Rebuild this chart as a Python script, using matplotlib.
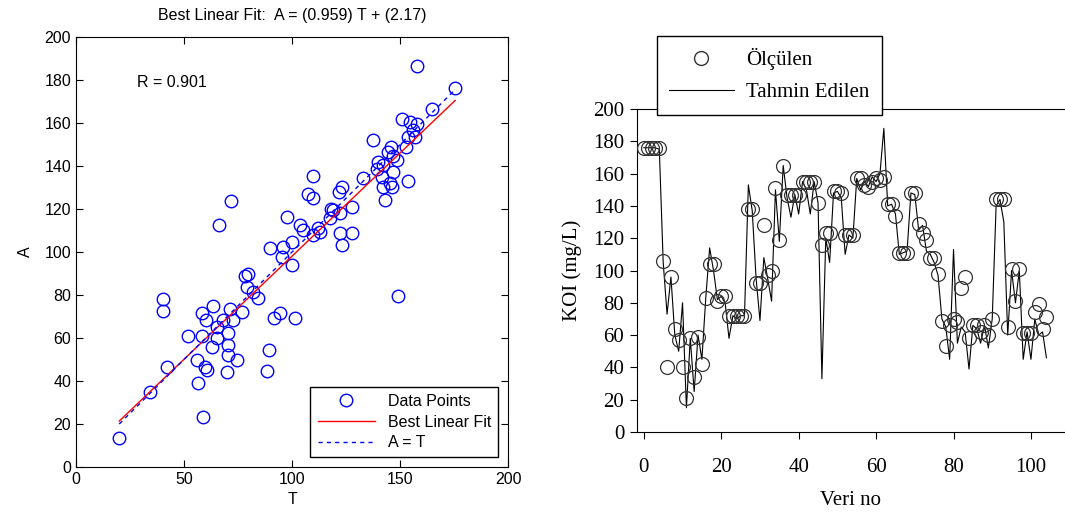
import matplotlib
matplotlib.use("Agg")
import matplotlib.pyplot as plt
import numpy as np
from matplotlib.lines import Line2D

# ---- Left panel data: targets T vs outputs A ----
T_vals = [157.7, 175.5, 165.0, 150.8, 154.6, 157.7, 156.0, 153.8, 157.0, 153.0,
          137.4, 146.0, 144.6, 146.9, 148.5, 140.0, 142.3, 139.2, 141.5, 146.6,
          133.0, 153.5, 145.4, 146.2, 142.3, 143.0, 109.6, 107.5, 109.6, 123.0,
          121.9, 127.6, 71.8, 97.5, 119.0, 122.0, 117.6, 66.4, 103.7, 105.2,
          109.9, 122.2, 127.6, 123.0, 89.8, 96.0, 99.9, 95.2, 99.9, 79.8,
          79.0, 82.1, 84.4, 149.2, 40.1, 40.1, 58.2, 63.6, 71.3, 76.7,
          68.2, 72.8, 60.2, 94.4, 91.7, 101.4, 65.1, 70.5, 52.0, 58.2,
          65.1, 70.5, 62.8, 70.5, 74.4, 89.5, 88.3, 55.9, 59.7, 60.5,
          69.8, 42.0, 56.6, 34.3, 58.6, 20.0, 78.0, 112.0, 118.0, 113.0]
A_vals = [186.5, 176.4, 166.5, 161.9, 160.6, 159.4, 156.7, 153.3, 153.6, 149.0,
          152.0, 149.0, 146.6, 144.7, 142.8, 142.0, 140.5, 138.5, 135.0, 137.0,
          134.3, 133.2, 132.0, 130.4, 130.4, 124.2, 135.5, 127.0, 125.0, 130.4,
          128.0, 121.0, 123.9, 116.4, 119.5, 118.0, 115.7, 112.6, 112.6, 110.2,
          107.9, 108.7, 108.7, 103.3, 101.7, 102.5, 104.8, 97.8, 94.0, 90.0,
          83.9, 81.5, 78.5, 79.5, 78.0, 72.7, 71.5, 74.9, 73.3, 72.2,
          68.4, 68.4, 68.4, 71.5, 69.2, 69.2, 65.3, 62.2, 60.9, 60.9,
          59.9, 56.7, 56.0, 52.1, 49.8, 54.4, 44.8, 49.8, 46.7, 45.1,
          44.3, 46.7, 38.9, 35.0, 23.4, 13.3, 89.0, 111.0, 120.0, 109.5]
fit_slope = 0.959
fit_intercept = 2.17
R_value = 0.901

# ---- Right panel data: measured vs predicted KOI ----
veri_no = list(range(105))
olculen = [176, 176, 176, 176, 176, 106, 40, 96, 64, 57,
           40, 21, 58, 34, 59, 42, 83, 104, 104, 81,
           84, 84, 72, 72, 72, 72, 72, 138, 138, 92,
           92, 128, 97, 100, 151, 119, 165, 147, 147, 147,
           147, 155, 155, 155, 155, 142, 116, 123, 123, 149,
           149, 148, 122, 122, 122, 157, 157, 153, 152, 155,
           157, 156, 158, 141, 141, 134, 111, 111, 111, 148,
           148, 129, 123, 119, 108, 108, 98, 69, 53, 66,
           70, 68, 89, 96, 58, 66, 66, 62, 66, 60,
           70, 144, 144, 144, 65, 101, 81, 101, 61, 61,
           61, 74, 79, 64, 71]
tahmin = [176, 176, 176, 176, 175, 105, 73, 96, 60, 50,
          80, 15, 58, 25, 60, 45, 83, 114, 100, 82,
          84, 80, 58, 72, 70, 72, 72, 153, 137, 95,
          69, 108, 95, 81, 150, 118, 165, 145, 133, 147,
          135, 155, 150, 135, 155, 142, 33, 120, 105, 148,
          149, 145, 110, 122, 120, 157, 150, 155, 152, 158,
          155, 160, 188, 140, 141, 135, 110, 111, 112, 148,
          147, 125, 128, 112, 110, 105, 97, 70, 65, 45,
          113, 55, 65, 62, 39, 66, 64, 55, 66, 52,
          70, 140, 144, 130, 60, 100, 80, 100, 45, 62,
          45, 70, 60, 62, 46]

fig = plt.figure(figsize=(10.65, 5.19), dpi=100)

# ---------------- Left panel ----------------
sans = ["Liberation Sans", "DejaVu Sans"]
ax1 = fig.add_axes([0.0714, 0.1002, 0.4056, 0.8285])
ax1.plot(T_vals, A_vals, linestyle="none", marker="o", markersize=9,
         markerfacecolor="none", markeredgecolor="#0000ff", markeredgewidth=1.0,
         label="Data Points")
tmin, tmax = min(T_vals), max(T_vals)
xs = np.array([tmin, tmax])
ax1.plot(xs, fit_slope * xs + fit_intercept, color="#ff0000", lw=1.0, label="Best Linear Fit")
ax1.plot(xs, xs, color="#0000ff", lw=1.0, linestyle=(0, (3, 3)), label="A = T")
ax1.set_xlim(0, 200)
ax1.set_ylim(0, 200)
ax1.set_xticks(range(0, 201, 50))
ax1.set_yticks(range(0, 201, 20))
ax1.tick_params(direction="in", top=True, right=True, length=5, labelsize=11.5)
for lab in ax1.get_xticklabels() + ax1.get_yticklabels():
    lab.set_family(sans)
ax1.set_xlabel("T", fontsize=11.5, family=sans, labelpad=4)
ax1.set_ylabel("A", fontsize=11.5, family=sans, labelpad=8)
ax1.set_title("Best Linear Fit:  A = (0.959) T + (2.17)", fontsize=11.5, family=sans, pad=12)
ax1.text(28, 179, "R = %.3f" % R_value, fontsize=11.5, family=sans, va="center")
leg1 = ax1.legend(loc="lower right", prop={"family": sans, "size": 11.5},
                  frameon=True, fancybox=False, edgecolor="black", framealpha=1,
                  borderaxespad=0.6, handlelength=3.6, labelspacing=0.35,
                  borderpad=0.45)
leg1.get_frame().set_linewidth(1.0)

# ---------------- Right panel ----------------
serif = ["Liberation Serif", "DejaVu Serif"]
ax2 = fig.add_axes([0.598, 0.1676, 0.402, 0.6224])
ax2.plot(veri_no, tahmin, color="black", lw=0.8, zorder=2)
ax2.plot(veri_no, olculen, linestyle="none", marker="o", markersize=10,
         markerfacecolor="none", markeredgecolor="#333333", markeredgewidth=0.9, zorder=3)
ax2.set_xlim(-1.8, 108.8)
ax2.set_ylim(0, 200)
ax2.set_xticks(range(0, 101, 20))
ax2.set_yticks(range(0, 201, 20))
ax2.spines["right"].set_visible(False)
ax2.tick_params(direction="out", length=5, labelsize=15, pad=4)
ax2.tick_params(axis="x", pad=14)
for lab in ax2.get_xticklabels() + ax2.get_yticklabels():
    lab.set_family(serif)
ax2.set_xlabel("Veri no", fontsize=15, family=serif, labelpad=10)
ax2.set_ylabel("KOI (mg/L)", fontsize=15, family=serif, labelpad=8)

handles = [Line2D([], [], linestyle="none", marker="o", markersize=10,
                  markerfacecolor="none", markeredgecolor="#333333"),
           Line2D([], [], color="black", lw=0.8)]
leg2 = fig.legend(handles, ["Ölçülen", "Tahmin Edilen"], loc="upper left",
                  bbox_to_anchor=(0.6165, 0.931), borderaxespad=0,
                  prop={"family": serif, "size": 15},
                  frameon=True, fancybox=False, edgecolor="black", framealpha=1,
                  handlelength=3.1, handletextpad=0.6, labelspacing=0.6,
                  borderpad=0.6)
leg2.get_frame().set_linewidth(1.0)

fig.savefig("out.png", dpi=100)
